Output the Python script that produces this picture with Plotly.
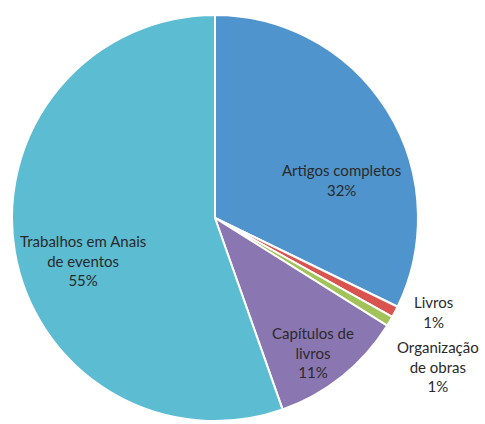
import plotly.graph_objects as go

labels = ["Artigos completos", "Livros", "Organização de obras", "Capítulos de livros", "Trabalhos em Anais de eventos"]
values = [32.2, 0.9, 0.8, 10.7, 55.4]
colors = ["#4F94CD", "#D9534F", "#A2C35A", "#8A76B1", "#5CBCD2"]
label_lines = ["Artigos completos", "Livros", "Organização<br>de obras", "Capítulos de<br>livros", "Trabalhos em Anais<br>de eventos"]
# label centre positions (pixels) for annotations
label_px = [(341, 180), (433, 312), (438, 366), (313, 352), (83, 260)]

W, H = 485, 424
cx, cy, r = 215, 218, 203

fig = go.Figure(go.Pie(
    labels=labels, values=values, sort=False, direction="clockwise", rotation=0,
    marker=dict(colors=colors, line=dict(color="white", width=2)),
    textinfo="none", hoverinfo="label+percent", showlegend=False,
    domain=dict(x=[(cx - r) / W, (cx + r) / W], y=[1 - (cy + r) / H, 1 - (cy - r) / H]),
))

total = sum(values)
for lab, v, (px, py) in zip(label_lines, values, label_px):
    fig.add_annotation(
        x=px / W, y=1 - py / H, xref="paper", yref="paper",
        xanchor="center", yanchor="middle",
        text=f"{lab}<br>{round(100 * v / total)}%", showarrow=False,
        font=dict(family="Lato", size=15, color="#2a2a2a"), align="center",
    )

fig.update_layout(
    width=W, height=H, margin=dict(l=0, r=0, t=0, b=0),
    paper_bgcolor="white", plot_bgcolor="white",
)
fig.write_html("out.html", config={"displayModeBar": False},
               post_script="document.body.style.margin='0';")
